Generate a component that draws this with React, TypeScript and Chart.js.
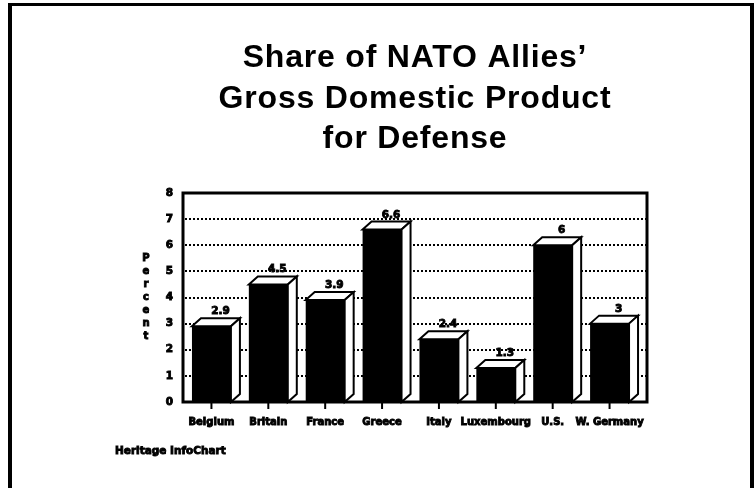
import { useEffect, useRef } from 'react';
import { Chart, registerables } from 'chart.js';

Chart.register(...registerables);

const categories = ['Belgium', 'Britain', 'France', 'Greece', 'Italy', 'Luxembourg', 'U.S.', 'W. Germany'];
const values = [2.9, 4.5, 3.9, 6.6, 2.4, 1.3, 6, 3];
const valueLabels = ['2.9', '4.5', '3.9', '6.6', '2.4', '1.3', '6', '3'];
const titleLines = ['Share of NATO Allies\u2019', 'Gross Domestic Product', 'for Defense'];
const yAxisTitle = 'Percent';
const sourceNote = 'Heritage InfoChart';
const yMin = 0;
const yMax = 8;
const yStep = 1;

const DX = 9;
const DY = 8;
const SMALL = 'bold 10px "DejaVu Sans", sans-serif';

function heavyText(ctx: CanvasRenderingContext2D, t: string, x: number, y: number) {
  ctx.lineWidth = 0.9;
  ctx.strokeText(t, x, y);
  ctx.fillText(t, x, y);
}

const decor = {
  id: 'decor',
  beforeDatasetsDraw(chart: any) {
    const { ctx, chartArea } = chart;
    const ys = chart.scales.y;
    ctx.save();
    ctx.strokeStyle = '#000';
    ctx.lineWidth = 2;
    ctx.setLineDash([2, 2]);
    for (let v = yMin + yStep; v < yMax; v += yStep) {
      const y = Math.round(ys.getPixelForValue(v));
      ctx.beginPath();
      ctx.moveTo(chartArea.left + 2, y);
      ctx.lineTo(chartArea.right + DX, y);
      ctx.stroke();
    }
    ctx.restore();
  },
  afterDatasetsDraw(chart: any) {
    const { ctx, chartArea } = chart;
    const meta = chart.getDatasetMeta(0);
    ctx.save();
    ctx.strokeStyle = '#000';
    ctx.lineJoin = 'miter';
    meta.data.forEach((el: any, i: number) => {
      const { x, y, base, width } = el.getProps(['x', 'y', 'base', 'width'], true);
      const x0 = x - width / 2;
      const x1 = x + width / 2;
      ctx.lineWidth = 2;
      // top face
      ctx.beginPath();
      ctx.moveTo(x0, y);
      ctx.lineTo(x1, y);
      ctx.lineTo(x1 + DX, y - DY);
      ctx.lineTo(x0 + DX, y - DY);
      ctx.closePath();
      ctx.fillStyle = '#fff';
      ctx.fill();
      ctx.stroke();
      // side face
      ctx.beginPath();
      ctx.moveTo(x1, y);
      ctx.lineTo(x1 + DX, y - DY);
      ctx.lineTo(x1 + DX, base - DY);
      ctx.lineTo(x1, base);
      ctx.closePath();
      ctx.fill();
      ctx.stroke();
      // tick mark below axis
      ctx.beginPath();
      ctx.moveTo(x, chartArea.bottom);
      ctx.lineTo(x, chartArea.bottom + 7);
      ctx.stroke();
      // value label
      ctx.fillStyle = '#000';
      ctx.font = 'bold 10.5px "DejaVu Sans", sans-serif';
      ctx.textAlign = 'center';
      ctx.textBaseline = 'alphabetic';
      heavyText(ctx, valueLabels[i], x + DX, y - DY - 4);
    });
    // plot frame
    ctx.lineWidth = 3;
    ctx.strokeRect(chartArea.left, chartArea.top, chartArea.right + DX - chartArea.left, chartArea.bottom - chartArea.top);
    ctx.restore();
  },
  afterDraw(chart: any) {
    const { ctx, chartArea, width, height } = chart;
    ctx.save();
    ctx.fillStyle = '#000';
    ctx.strokeStyle = '#000';
    // outer frame
    ctx.fillRect(8, 3, 4, height - 3);
    ctx.fillRect(8, 3, width - 8, 3);
    ctx.fillRect(width - 4, 3, 4, height - 3);
    // title
    const cx = (chartArea.left + chartArea.right + DX) / 2;
    ctx.font = 'bold 32px "Liberation Sans", Arial, sans-serif';
    (ctx as any).letterSpacing = '0.8px';
    ctx.textAlign = 'center';
    ctx.textBaseline = 'alphabetic';
    const baselines = [67, 108, 148];
    titleLines.forEach((t, i) => ctx.fillText(t, cx, baselines[i]));
    (ctx as any).letterSpacing = '0px';
    // vertical axis title (stacked letters)
    ctx.font = SMALL;
    ctx.textBaseline = 'middle';
    const letters = yAxisTitle.split('');
    const midY = (chartArea.top + chartArea.bottom) / 2;
    const step = 13;
    const startY = midY - ((letters.length - 1) * step) / 2;
    letters.forEach((ch, i) => heavyText(ctx, ch, 146, startY + i * step));
    // source note
    ctx.textAlign = 'left';
    ctx.textBaseline = 'alphabetic';
    ctx.font = 'bold 10.5px "DejaVu Sans", sans-serif';
    heavyText(ctx, sourceNote, 115, 454);
    ctx.restore();
  },
};

export default function App() {
  const ref = useRef<HTMLCanvasElement | null>(null);
  useEffect(() => {
    document.body.style.margin = '0';
    const canvas = ref.current;
    if (!canvas) return;
    const chart = new Chart(canvas, {
      type: 'bar',
      data: {
        labels: categories,
        datasets: [
          {
            data: values,
            backgroundColor: '#000',
            borderWidth: 0,
            barPercentage: 0.685,
            categoryPercentage: 1,
          },
        ],
      },
      options: {
        responsive: false,
        maintainAspectRatio: false,
        animation: false,
        devicePixelRatio: 1,
        layout: { padding: { top: 193, left: 143, right: 116, bottom: 56 } },
        plugins: { legend: { display: false }, tooltip: { enabled: false }, title: { display: false } },
        scales: {
          x: {
            grid: { display: false, drawTicks: false },
            border: { display: false },
            ticks: {
              color: '#000',
              font: { family: '"DejaVu Sans", sans-serif', weight: 'bold', size: 10 },
              textStrokeColor: '#000',
              textStrokeWidth: 0.9,
              padding: 14,
              autoSkip: false,
              maxRotation: 0,
              minRotation: 0,
            },
            afterFit: (s: any) => {
              s.height = 30;
              s.paddingLeft = 0;
              s.paddingRight = 0;
            },
          },
          y: {
            min: yMin,
            max: yMax,
            grid: { display: false, drawTicks: false },
            border: { display: false },
            ticks: {
              stepSize: yStep,
              color: '#000',
              font: { family: '"DejaVu Sans", sans-serif', weight: 'bold', size: 10.5 },
              textStrokeColor: '#000',
              textStrokeWidth: 0.9,
              padding: 10,
            },
            afterFit: (s: any) => {
              s.width = 40;
              s.paddingTop = 0;
              s.paddingBottom = 0;
            },
          },
        },
      },
      plugins: [decor],
    });
    return () => chart.destroy();
  }, []);
  return (
    <div style={{ position: 'fixed', left: 0, top: 0, width: 754, height: 488, background: '#fff' }}>
      <canvas ref={ref} width={754} height={488} style={{ display: 'block' }} />
    </div>
  );
}
